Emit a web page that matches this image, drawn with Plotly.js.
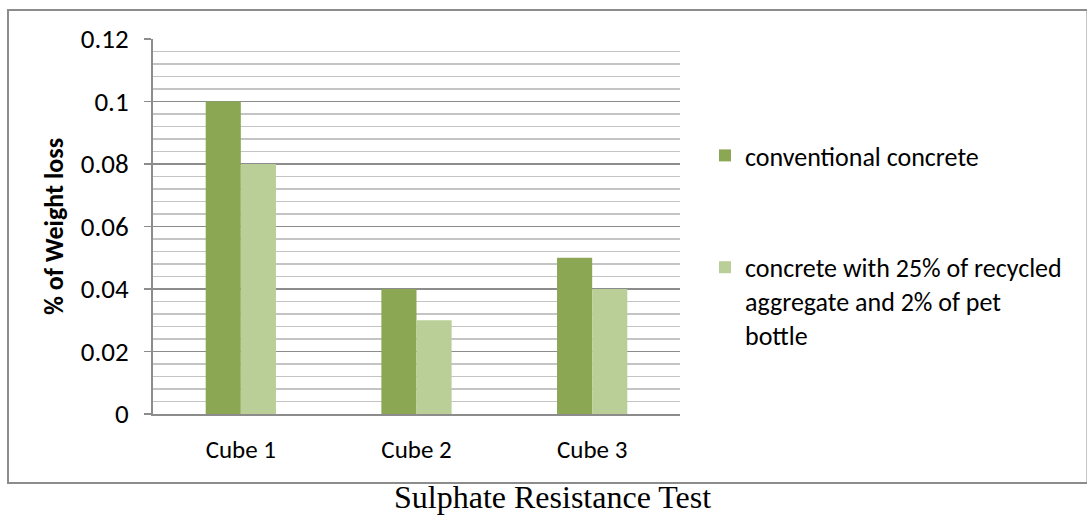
<!DOCTYPE html>
<html>
<head>
<meta charset="utf-8">
<script src="https://cdn.plot.ly/plotly-3.0.1.min.js"></script>
<style>
html,body{margin:0;padding:0;background:#fff;}
#chart{width:1087px;height:516px;}
</style>
</head>
<body>
<div id="chart"></div>
<script>
var categories = ["Cube 1", "Cube 2", "Cube 3"];
var conventional = [0.10, 0.04, 0.05];
var recycled = [0.08, 0.03, 0.04];
var seriesNames = ["conventional concrete", "concrete with 25% of recycled<br>aggregate and 2% of pet<br>bottle"];
var yTicks = [0, 0.02, 0.04, 0.06, 0.08, 0.1, 0.12];
var yTickText = ["0", "0.02", "0.04", "0.06", "0.08", "0.1", "0.12"];

var font = "Carlito, Lato, sans-serif";

var traces = [
  {type: "bar", x: categories, y: conventional, name: seriesNames[0],
   marker: {color: "#8BA753"}, legendgroup: "a"},
  {type: "bar", x: categories, y: recycled, name: seriesNames[1],
   marker: {color: "#BACF97"}, legendgroup: "b"}
];

var W = 527, H = 375, L = 153, T = 39;
function px(x){ return (x - L) / W; }
function py(y){ return (T + H - y) / H; }

var layout = {
  width: 1087, height: 516,
  margin: {l: 153, r: 407, t: 39, b: 102, pad: 0, autoexpand: false},
  paper_bgcolor: "#fff", plot_bgcolor: "#fff",
  barmode: "group", bargap: 0.6, bargroupgap: 0,
  font: {family: font, color: "#000"},
  xaxis: {
    type: "category",
    showline: true, linecolor: "#8c8c8c", linewidth: 2,
    ticks: "", showgrid: false,
    tickfont: {size: 25, family: font, color: "#000"},
    ticklabelstandoff: 12
  },
  yaxis: {
    range: [0, 0.12],
    tickvals: yTicks, ticktext: yTickText,
    showline: true, linecolor: "#8c8c8c", linewidth: 2,
    ticks: "outside", ticklen: 7, tickcolor: "#8c8c8c", tickwidth: 1.5,
    showgrid: true, gridcolor: "#8c8c8c", gridwidth: 1.3,
    zeroline: false,
    tickfont: {size: 27, family: font, color: "#000"},
    ticklabelstandoff: 10,
    minor: {dtick: 0.004, tick0: 0, showgrid: true, gridcolor: "#c4c4c4", gridwidth: 1.3, ticks: ""},
    title: {text: "<b>% of Weight loss</b>", font: {size: 26, family: font, color: "#000"}, standoff: 10}
  },
  showlegend: true,
  legend: {
    x: px(705), y: py(132), xanchor: "left", yanchor: "top",
    traceorder: "grouped", tracegroupgap: 75,
    valign: "top",
    font: {size: 26, family: font, color: "#000"},
    itemwidth: 30, bgcolor: "rgba(0,0,0,0)"
  },
  shapes: [
    {type: "rect", xref: "paper", yref: "paper",
     x0: px(8), x1: px(1087.5), y0: py(483), y1: py(10),
     line: {color: "#8c8c8c", width: 2}, fillcolor: "rgba(0,0,0,0)", layer: "below"}
  ],
  annotations: [
    {text: "Sulphate Resistance Test", xref: "paper", yref: "paper",
     x: px(552), y: py(497), xanchor: "center", yanchor: "middle",
     showarrow: false,
     font: {family: "'Liberation Serif', 'Times New Roman', serif", size: 32, color: "#000"}}
  ]
};

Plotly.newPlot("chart", traces, layout, {displayModeBar: false, staticPlot: true});
</script>
</body>
</html>
